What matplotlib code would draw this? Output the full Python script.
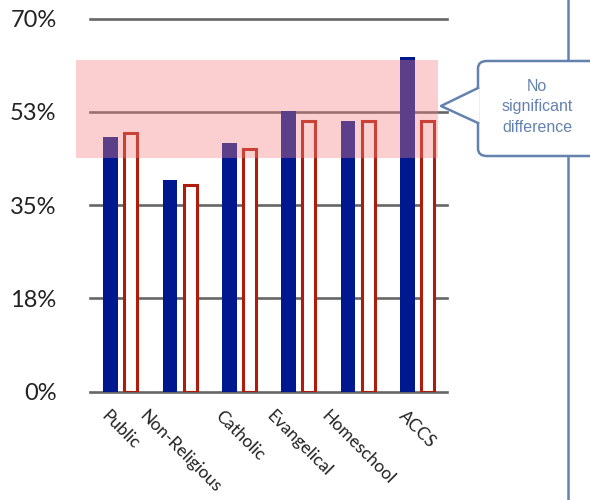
import matplotlib.pyplot as plt
from matplotlib.patches import Rectangle, FancyBboxPatch, Polygon
from matplotlib.lines import Line2D
import numpy as np

plt.rcParams['font.family'] = ['Lato', 'DejaVu Sans']

# data
categorias = ['Public', 'Non-Religious', 'Catholic', 'Evangelical', 'Homeschool', 'ACCS']
valores_azul = [47.7, 39.7, 46.6, 52.6, 50.7, 62.8]
valores_vermelho = [48.6, 38.7, 45.6, 50.7, 50.7, 50.7]
marcas_y = [0, 17.5, 35, 52.5, 70]
rotulos_y = ['0%', '18%', '35%', '53%', '70%']
faixa = (43.8, 62.2)  # "no significant difference" band
texto_balao = 'No\nsignificant\ndifference'

azul = '#00188f'
vermelho = '#b01c0c'
cinza = '#666666'
ardosia = '#6482ae'

W, H = 590, 500
fig = plt.figure(figsize=(W / 100, H / 100), dpi=100)
ax = fig.add_axes([90 / W, 1 - 391.5 / H, 357 / W, 373 / H])

x = np.arange(len(categorias))
desloc = 0.17
largura = 0.25

for y in marcas_y:
    ax.axhline(y, color=cinza, lw=1.9, zorder=1, clip_on=False)

ax.bar(x - desloc, valores_azul, largura, color=azul, zorder=2)
ax.bar(x + desloc, valores_vermelho, largura - 0.03, facecolor='white',
       edgecolor=vermelho, linewidth=2.2, zorder=2)

# faixa rosa por cima de tudo
ax.add_patch(Rectangle((-0.76, faixa[0]), 6.105, faixa[1] - faixa[0],
                       facecolor=(245 / 255, 128 / 255, 128 / 255), alpha=0.376,
                       edgecolor='none', clip_on=False, zorder=3))

ax.set_xlim(-0.52, 5.5)
ax.set_ylim(0, 70)
ax.set_yticks(marcas_y)
ax.set_yticklabels(rotulos_y, fontsize=17, color='#222222')
ax.set_xticks(x)
ax.set_xticklabels(categorias, rotation=-45, ha='center', va='top', fontsize=12.5,
                   color='#222222')
ax.tick_params(axis='y', length=0, pad=24)
ax.tick_params(axis='x', length=0, pad=12)
for s in ax.spines.values():
    s.set_visible(False)

# lado direito: linha vertical e balão
def fx(px):
    return px / W

def fy(py):
    return 1 - py / H

fig.add_artist(Line2D([fx(568), fx(568)], [0, 1], color=ardosia, lw=1.8, zorder=1))
caixa = FancyBboxPatch((fx(478), fy(156)), fx(140), 95 / H,
                       boxstyle='round,pad=0,rounding_size=0.015',
                       facecolor='white', edgecolor=ardosia, lw=1.8,
                       transform=fig.transFigure, zorder=5)
fig.add_artist(caixa)
fig.add_artist(Polygon([(fx(479.5), fy(88)), (fx(441), fy(106)), (fx(479.5), fy(123))],
                       closed=True, facecolor='white', edgecolor='none',
                       transform=fig.transFigure, zorder=6))
fig.add_artist(Line2D([fx(478), fx(441), fx(478)], [fy(88), fy(106), fy(123)],
                      color=ardosia, lw=1.8, zorder=7))
fig.text(fx(537), fy(107), texto_balao, ha='center', va='center', fontsize=11.5,
         family=['Liberation Sans'], color=ardosia, linespacing=1.45, zorder=8)

fig.savefig('out.png', dpi=100)
